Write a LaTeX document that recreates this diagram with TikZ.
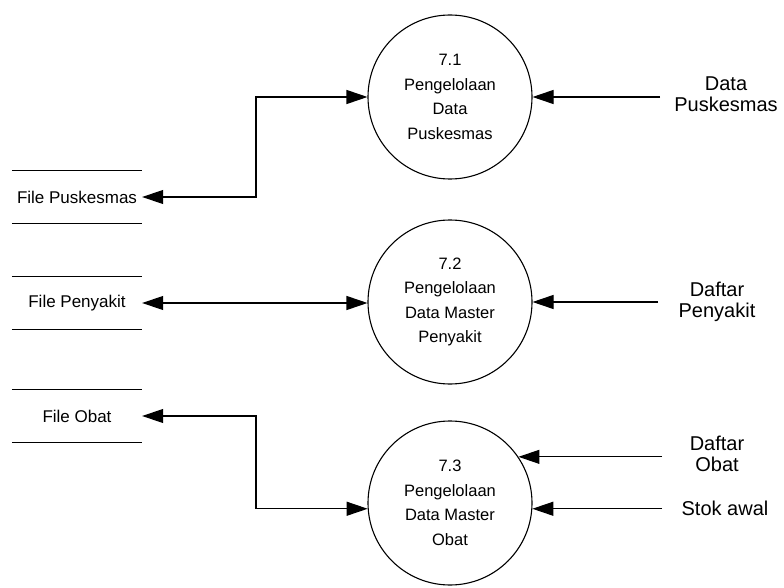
\documentclass[tikz,border=0pt]{standalone}
\usepackage{fontspec}
\setmainfont{Liberation Sans}
\usetikzlibrary{arrows.meta}

\tikzset{
  proc/.style={draw, circle, line width=1.1pt, minimum size=164pt, inner sep=0pt,
    align=center, font=\fontsize{16.5}{24.5}\selectfont},
  store/.style={minimum width=130pt, minimum height=52pt, inner sep=0pt,
    font=\fontsize{17}{20}\selectfont},
  storeline/.style={line width=1.1pt},
  ext/.style={align=center, inner sep=0pt, font=\fontsize{20}{21.5}\selectfont},
  flow/.style={line width=1.1pt, -{Triangle[length=21pt,width=14pt]}},
  biflow/.style={line width=1.1pt, {Triangle[length=21pt,width=14pt]}-{Triangle[length=21pt,width=14pt]}}
}

\begin{document}
\begin{tikzpicture}[x=1pt, y=-1pt]
  \useasboundingbox (0,0) rectangle (784,588);

  % processes
  \node[proc] (p71) at (450,97)  {7.1\\Pengelolaan\\Data\\Puskesmas};
  \node[proc] (p72) at (450,302) {7.2\\Pengelolaan\\Data Master\\Penyakit};
  \node[proc] (p73) at (450,503) {7.3\\Pengelolaan\\Data Master\\Obat};

  % data stores
  \node[store] (fpus) at (77,197) {File Puskesmas};
  \node[store] (fpen) at (77,303) {File Penyakit};
  \node[store] (fob)  at (77,416) {File Obat};
  \foreach \s in {fpus,fpen,fob}{
    \draw[storeline] (\s.north west) -- (\s.north east);
    \draw[storeline] (\s.south west) -- (\s.south east);
  }

  % external inputs
  \node[ext] (dpus) at (726,94)  {Data\\Puskesmas};
  \node[ext] (dpen) at (717,302) {Daftar\\Penyakit};
  \node[ext] (dob)  at (717,454) {Daftar\\Obat};
  \node[ext] (stok) at (725,508) {Stok awal};

  \coordinate (t1) at (660,97);
  \coordinate (t2) at (658,302);
  \coordinate (t3) at (662,457);
  \coordinate (t4) at (662,508);
  \coordinate (bend) at (256,0);

  % flows between stores and processes
  \draw[biflow] (fpus.east) -- (fpus.east -| bend) |- (p71.west);
  \draw[biflow] (fpen.east) -- (fpen.east -| p72.west);
  \draw[biflow] (fob.east) -- (fob.east -| bend) |- (p73.184);

  % incoming flows
  \draw[flow] (t1) -- (p71.east);
  \draw[flow] (t2) -- (p72.east);
  \draw[flow] (t3 |- p73.34) -- (p73.34);
  \draw[flow] (t4 |- p73.-4) -- (p73.-4);
\end{tikzpicture}
\end{document}
